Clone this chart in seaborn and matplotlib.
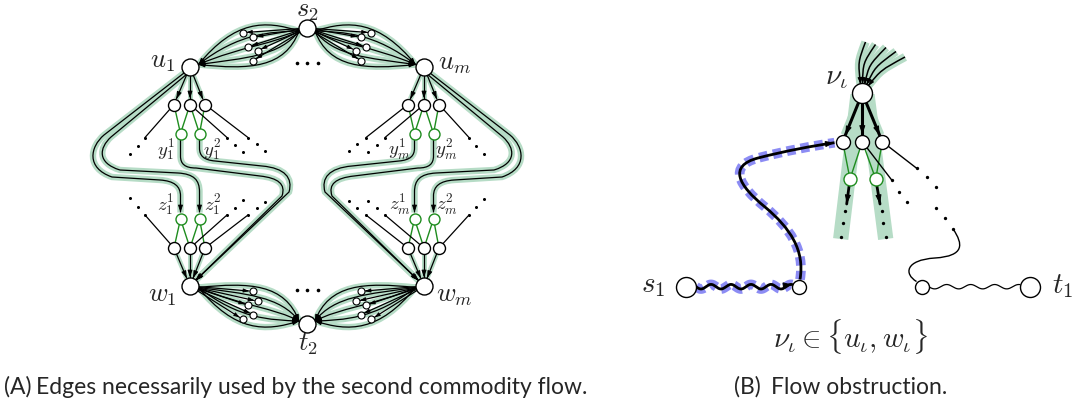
import numpy as np
import pandas as pd
import matplotlib
matplotlib.use("Agg")
import matplotlib.pyplot as plt
import seaborn as sns
from matplotlib.path import Path
from matplotlib.patches import PathPatch, FancyArrowPatch

sns.set_theme(style="white")
plt.rcParams["font.family"] = ["Lato", "DejaVu Sans"]
plt.rcParams["mathtext.fontset"] = "cm"

HALO = "#b6dcc6"
GREEN = "#1e8c1e"
BLUE = "#8c8cf4"
MX = 614   # left/right mirror axis (x' = MX - x)
MY = 352   # top/bottom mirror axis (y' = MY - y)

# ---------------- panel A ----------------
s2 = (307, 28)
t2 = (307, 324)
u_nodes = [(190, 67), (424, 67)]
w_nodes = [(190, 286), (424, 286)]
gadget_dx = [-16, 0, 15]
green_dx = [-9.5, 9.5]
top_row_y = 104.5
y_row_y = 133.5
z_row_y = 219
bottom_row_y = 248
reach_dx = [[-29, 37, 43], [-42, -39, 30]]
reach_dy = 33

bundle_nodes = [(242.7, 32.7), (253.3, 37.3), (248.3, 46.7), (257.7, 50.7), (252.7, 60.7)]
bundle_start = (299, 31)
bundle_end = (198.5, 64.5)
bundle_c1 = [(265, 20), (270, 32), (275, 44), (280, 56), (285, 68)]
bundle_c2 = [(235, 20), (239, 33), (242, 46), (246, 58), (250, 70)]

loop_outer = [("M", (184, 73)), ("L", (104, 135)),
              ("C", (90, 147), (86, 168), (112, 177)), ("L", (160, 180)),
              ("C", (174, 181), (180.5, 186), (180.5, 196)), ("L", (180.5, 212.5))]
loop_inner = [("M", (187, 74)), ("L", (111, 137)),
              ("C", (99, 148), (97, 163), (120, 170)), ("L", (178, 173)),
              ("C", (194, 174), (199.5, 180), (199.5, 192)), ("L", (199.5, 212.5))]
y_path_1 = [("M", (180.5, 139)), ("L", (180.5, 156)),
            ("C", (180.5, 164), (185, 168), (196, 168)), ("L", (260, 176)),
            ("C", (278, 178), (286, 184), (282, 196)), ("L", (195, 281))]
y_path_2 = [("M", (199.5, 139)), ("L", (199.5, 148)),
            ("C", (199.5, 156), (204, 160), (215, 161)), ("L", (262, 166)),
            ("C", (285, 168), (293, 178), (289, 192)), ("L", (196, 280))]

# ---------------- panel B ----------------
nu = (862.3, 93.3)
nu_children = [(842.7, 141.7), (862.3, 141.7), (882.3, 141.7)]
nu_green = [(850, 179), (875.7, 179)]
fan_ends = [(865.5, 42), (875.5, 44.5), (886, 47.5), (896, 51.5), (905, 57)]
fan_ctrl = [(858, 62), (863, 63), (869, 65), (875, 67), (881, 70)]
fan_starts = [(860.5, 84), (862.5, 84), (864.5, 84.5), (866.5, 85), (868, 86)]
band_tops = [(858, 95), (867, 95)]
band_bottoms = [(840.7, 239), (885.7, 239)]
green_arrow_tips = [(846.7, 204), (880, 204)]
down_dots = [[(845, 210.5), (842.7, 222.7), (840.7, 236.7)],
             [(881.7, 210.5), (883.3, 222.7), (885.7, 236.7)]]
side_line_ends = [(891.7, 180), (916.7, 168.3)]
side_dots = [(899.3, 191.7), (907.3, 201.7), (926.7, 177.3), (936, 187.3),
             (936, 208.3), (945, 218.3), (953.3, 229.3)]
s1 = (686, 286.7)
t1 = (1030, 286.7)
mid_left = (799.3, 286.7)
mid_right = (921.7, 286.7)
s1_path = [("M", (800, 279.5)), ("C", (805, 250), (790, 228), (765, 207)),
           ("C", (738, 185), (728, 166), (758, 158)),
           ("C", (785, 151), (812, 146), (834.5, 142.7))]
t1_path = [("M", (953.3, 229.3)), ("C", (963, 244), (965, 256), (935, 258)),
           ("C", (905, 260), (904, 274), (916.5, 281.5))]

fig = plt.figure(figsize=(10.76, 4.08), dpi=100)
ax = fig.add_axes([0, 0, 1, 1])


def build(spec, mx=False, my=False):
    verts, codes = [], []
    for item in spec:
        kind, pts = item[0], item[1:]
        for (x, y) in pts:
            verts.append((MX - x if mx else x, MY - y if my else y))
        codes += {"M": [Path.MOVETO], "L": [Path.LINETO], "C": [Path.CURVE4] * 3}[kind]
    return np.array(verts, float), codes


def head(p, q, color="black", ms=7, lw=0.7, z=4):
    p = np.asarray(p, float)
    q = np.asarray(q, float)
    d = (q - p) / np.hypot(*(q - p))
    ax.add_patch(FancyArrowPatch(q - d * 4, q, arrowstyle="-|>,head_length=0.6,head_width=0.2",
                                 mutation_scale=ms, color=color, lw=lw, shrinkA=0, shrinkB=0,
                                 zorder=z))


def curve(spec, mx=False, my=False, lw=0.9, color="black", halo=False, end_arrow=False,
          start_arrow=False, ms=7, hw=4.6):
    verts, codes = build(spec, mx, my)
    path = Path(verts, codes)
    if halo:
        ax.add_patch(PathPatch(path, fc="none", ec=HALO, lw=hw, zorder=1, capstyle="butt"))
    ax.add_patch(PathPatch(path, fc="none", ec=color, lw=lw, zorder=3))
    if end_arrow:
        head(verts[-2], verts[-1], color, ms)
    if start_arrow:
        head(verts[1], verts[0], color, ms)


def trim(p, q, rp=0.0, rq=0.0):
    p = np.asarray(p, float)
    q = np.asarray(q, float)
    d = (q - p) / np.hypot(*(q - p))
    return p + d * rp, q - d * rq


def edge(p, q, rp=0.0, rq=0.0, lw=0.9, color="black", arrow=False, halo=False, ms=7, hw=4.6):
    a, b = trim(p, q, rp, rq)
    if halo:
        ax.plot([a[0], b[0]], [a[1], b[1]], color=HALO, lw=hw, zorder=1, solid_capstyle="butt")
    ax.plot([a[0], b[0]], [a[1], b[1]], color=color, lw=lw, zorder=3 if color == "black" else 2)
    if arrow:
        head(a, b, color, ms)


def dots(pts, ms=2.2):
    pts = np.asarray(pts, float)
    ax.plot(pts[:, 0], pts[:, 1], "o", color="black", ms=ms, mew=0, zorder=3)


R_BIG, R_SMALL, R_TINY, R_GREEN = 8.5, 6, 3.5, 5.5

# s2 / t2 bundles
for side in range(2):
    mx = side == 1
    for k in range(5):
        spec = [("M", bundle_start), ("C", bundle_c1[k], bundle_c2[k], bundle_end)]
        curve(spec, mx=mx, halo=True, end_arrow=True, ms=6)
        curve(spec, mx=mx, my=True, halo=True, start_arrow=True, ms=6)
        nx, ny = bundle_nodes[k]
        nx = MX - nx if mx else nx
        edge(s2, (nx, ny), R_BIG, R_TINY, arrow=True, ms=5.5)
        edge(w_nodes[side], (nx, MY - ny), R_BIG, R_TINY, arrow=True, ms=5.5)

# gadgets
small_pts, green_pts = [], []
for side in range(2):
    ux, uy = u_nodes[side]
    wx, wy = w_nodes[side]
    tops = [(ux + dx, top_row_y) for dx in gadget_dx]
    bots = [(wx + dx, bottom_row_y) for dx in gadget_dx]
    ys = [(ux + dx, y_row_y) for dx in green_dx]
    zs = [(wx + dx, z_row_y) for dx in green_dx]
    small_pts += tops + bots
    green_pts += ys + zs
    for i in range(3):
        edge(u_nodes[side], tops[i], R_BIG, R_SMALL, arrow=True, halo=True, ms=7, hw=3.6)
        edge(bots[i], w_nodes[side], R_SMALL, R_BIG, arrow=True, halo=True, ms=7, hw=3.6)
        for row, sign in ((tops, 1), (bots, -1)):
            p = np.array(row[i])
            e = p + np.array([reach_dx[side][i], sign * reach_dy])
            edge(p, e, lw=0.9)
            d = (e - p) / np.hypot(*(e - p))
            dots([e, e + d * 11, e + d * 22])
    for j in range(2):
        for i in (j, j + 1):
            edge(ys[j], tops[i], lw=1.0, color=GREEN)
            edge(zs[j], bots[i], lw=1.0, color=GREEN)
    for spec in (loop_outer, loop_inner, y_path_1, y_path_2):
        curve(spec, mx=side == 1, halo=True, end_arrow=True)

dots([(296.5, 62.5), (307, 62.5), (317.5, 62.5), (296.5, 290), (307, 290), (317.5, 290)], ms=2.6)

# ---------------- panel B drawing ----------------
for top, bot in zip(band_tops, band_bottoms):
    ax.plot([top[0], bot[0]], [top[1], bot[1]], color=HALO, lw=11, zorder=1, solid_capstyle="butt")
for k in range(5):
    spec = [("M", fan_ends[k]), ("C", fan_ctrl[k], fan_ctrl[k], fan_starts[k])]
    curve(spec, halo=True, end_arrow=True, lw=1.1, ms=6, hw=6)
for c in nu_children:
    edge(nu, c, 10, 7, lw=2.2, arrow=True, halo=True, ms=9, hw=7)
for j in range(2):
    for i in (j, j + 1):
        edge(nu_children[i], nu_green[j], lw=1.0, color=GREEN)
    edge(nu_green[j], green_arrow_tips[j], 6, 0, lw=2.0, arrow=True, ms=9)
    dots(down_dots[j], ms=2.4)
for c, e in zip(nu_children[1:], side_line_ends):
    edge(c, e, lw=1.0)
dots(side_line_ends + side_dots, ms=2.4)
curve(t1_path, lw=1.0)

# blue dashed halo + thick s1 route
dash = (0, (0.9, 0.55))
xs = np.linspace(s1[0] + 10, mid_left[0] - 7, 200)
wave = mid_left[1] + 2.3 * np.sin((xs - xs[0]) / 20.0 * 2 * np.pi)
ax.plot(xs, wave, color=BLUE, lw=7, ls=dash, zorder=1)
ax.plot(xs, wave, color="black", lw=2.0, zorder=3)
head((xs[-8], wave[-8]), (xs[-1], wave[-1]), ms=9)
verts, codes = build(s1_path)
ax.add_patch(PathPatch(Path(verts, codes), fc="none", ec=BLUE, lw=7, ls=dash, zorder=1,
                       capstyle="butt"))
curve(s1_path, lw=2.0, end_arrow=True, ms=9)

xs2 = np.linspace(mid_right[0] + 7, t1[0] - 10, 200)
wave2 = mid_right[1] + 2.2 * np.sin((xs2 - xs2[0]) / 24.0 * 2 * np.pi)
ax.plot(xs2, wave2, color="black", lw=0.9, zorder=3)

# ---------------- nodes via seaborn ----------------
big_df = pd.DataFrame([s2, t2] + u_nodes + w_nodes, columns=["x", "y"])
tiny_df = pd.DataFrame([(MX - x if m else x, MY - y if f else y)
                        for m in (False, True) for f in (False, True)
                        for (x, y) in bundle_nodes], columns=["x", "y"])
small_df = pd.DataFrame(small_pts, columns=["x", "y"])
green_df = pd.DataFrame(green_pts, columns=["x", "y"])
b_big_df = pd.DataFrame([nu, s1, t1], columns=["x", "y"])
b_small_df = pd.DataFrame(nu_children + [mid_left, mid_right], columns=["x", "y"])
b_green_df = pd.DataFrame(nu_green, columns=["x", "y"])


def nodes(df, r, ec="black", lw=1.0):
    s = (2 * r * 0.72) ** 2
    sns.scatterplot(data=df, x="x", y="y", s=s, color="white", edgecolor=ec, linewidth=lw,
                    ax=ax, zorder=10, legend=False)


nodes(big_df, R_BIG)
nodes(tiny_df, R_TINY, lw=0.8)
nodes(small_df, R_SMALL)
nodes(green_df, R_GREEN, ec=GREEN)
nodes(b_big_df, 10)
nodes(b_small_df, 7)
nodes(b_green_df, 6.5, ec=GREEN)

# ---------------- labels ----------------
lab = dict(ha="center", va="center", zorder=12)
ax.text(307.5, 11, r"$s_2$", fontsize=19, **lab)
ax.text(307.5, 344, r"$t_2$", fontsize=19, **lab)
ax.text(162, 62, r"$u_1$", fontsize=19, **lab)
ax.text(454, 64, r"$u_m$", fontsize=19, **lab)
ax.text(162, 295, r"$w_1$", fontsize=19, **lab)
ax.text(454, 295, r"$w_m$", fontsize=19, **lab)
for side, name in ((0, "1"), (1, "m")):
    ux = u_nodes[side][0]
    ax.text(ux - 24.5, 149, rf"$y_{name}^1$", fontsize=13.5, **lab)
    ax.text(ux + 22, 149, rf"$y_{name}^2$", fontsize=13.5, **lab)
    ax.text(ux - 24.5, 204, rf"$z_{name}^1$", fontsize=13.5, **lab)
    ax.text(ux + 22.5, 204, rf"$z_{name}^2$", fontsize=13.5, **lab)
ax.text(837, 78, r"$\nu_\iota$", fontsize=21, **lab)
ax.text(653, 286, r"$s_1$", fontsize=21, **lab)
ax.text(1063, 286, r"$t_1$", fontsize=21, **lab)
ax.text(850, 336, r"$\nu_\iota \in \{u_\iota, w_\iota\}$", fontsize=21, **lab)

ax.text(4, 387, "(A)", fontsize=16.5, ha="left", va="center")
ax.text(36, 388, "Edges necessarily used by the second commodity flow.", fontsize=16.5,
        ha="left", va="center")
ax.text(734, 387, "(B)", fontsize=16.5, ha="left", va="center")
ax.text(771, 388, "Flow obstruction.", fontsize=16.5, ha="left", va="center")

ax.set_xlim(0, 1076)
ax.set_ylim(408, 0)
ax.axis("off")
fig.savefig("out.png", dpi=100)
